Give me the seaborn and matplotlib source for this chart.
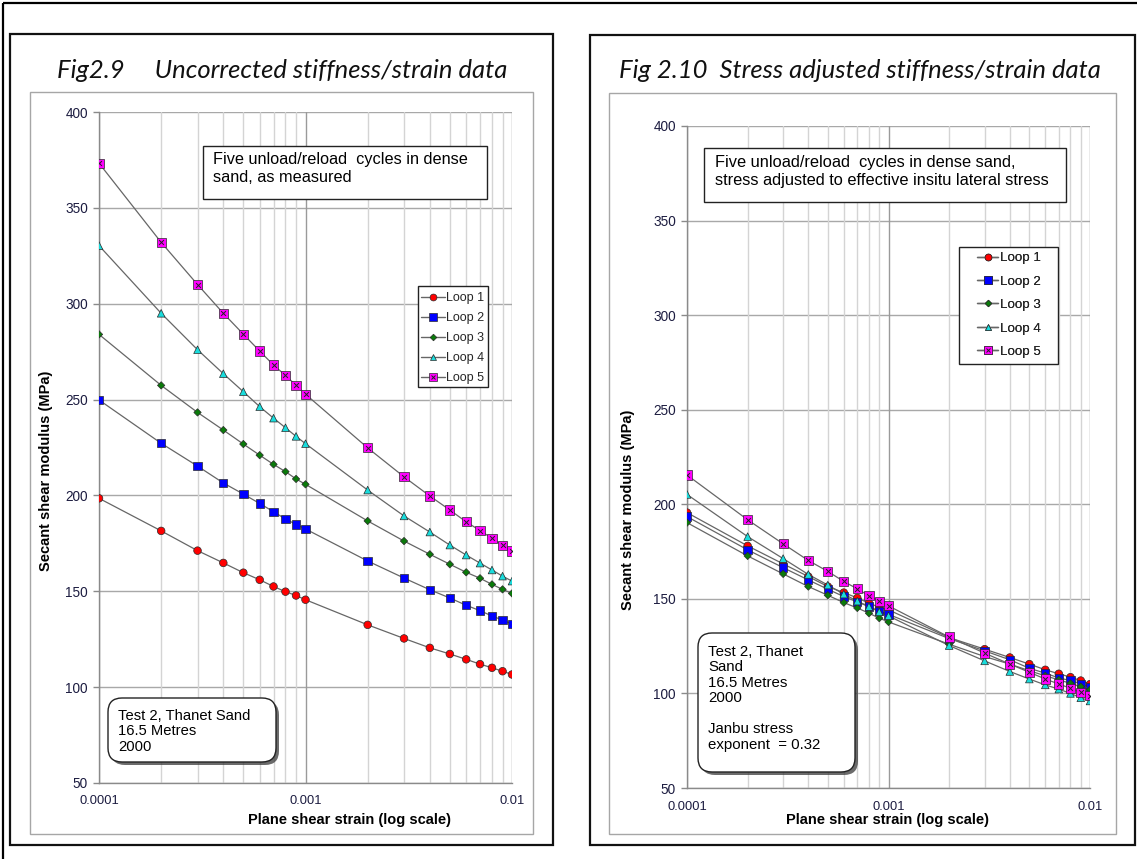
import matplotlib
matplotlib.use("Agg")
import matplotlib.pyplot as plt
import pandas as pd
import seaborn as sns
from matplotlib.patches import Rectangle, FancyBboxPatch
from matplotlib.lines import Line2D
from matplotlib.ticker import LogLocator, NullFormatter, FixedLocator

# ---------------------------------------------------------------- data
strain = [0.0001, 0.0002, 0.0003, 0.0004, 0.0005, 0.0006, 0.0007, 0.0008, 0.0009,
          0.001, 0.002, 0.003, 0.004, 0.005, 0.006, 0.007, 0.008, 0.009, 0.01]
loop_names = ["Loop 1", "Loop 2", "Loop 3", "Loop 4", "Loop 5"]

# Fig 2.9 - secant shear modulus as measured (MPa)
raw_loop1 = [198.5, 181.5, 171.2, 164.8, 159.7, 156.0, 152.5, 149.8, 147.8, 145.6,
             132.5, 125.4, 120.5, 117.3, 114.5, 112.0, 110.1, 108.3, 106.6]
raw_loop2 = [249.8, 227.2, 215.3, 206.5, 200.7, 195.8, 191.5, 187.7, 184.9, 182.5,
             165.8, 156.9, 150.8, 146.5, 142.7, 139.9, 137.1, 135.0, 132.9]
raw_loop3 = [284.0, 257.4, 243.3, 234.1, 226.8, 221.0, 216.2, 212.4, 208.6, 205.8,
             186.7, 176.2, 169.3, 164.1, 159.9, 156.8, 153.6, 151.0, 148.9]
raw_loop4 = [330.3, 295.0, 276.0, 263.5, 254.1, 246.3, 240.3, 235.3, 230.8, 227.0,
             202.8, 189.3, 180.9, 174.1, 168.9, 164.7, 161.1, 157.9, 155.3]
raw_loop5 = [373.3, 332.0, 310.0, 295.0, 284.1, 275.3, 268.0, 262.6, 257.4, 252.8,
             224.8, 209.7, 199.7, 192.4, 186.2, 181.7, 177.6, 173.9, 171.0]

# Fig 2.10 - stress adjusted to effective in-situ lateral stress (MPa)
adj_loop1 = [195.6, 178.0, 168.5, 161.8, 156.5, 153.3, 150.5, 147.7, 145.6, 144.2,
             129.5, 123.4, 119.0, 115.5, 112.5, 110.4, 108.6, 106.8, 104.9]
adj_loop2 = [193.5, 175.9, 166.5, 160.0, 155.1, 151.2, 148.4, 145.9, 143.5, 141.8,
             129.0, 122.5, 117.8, 113.3, 110.7, 108.2, 106.8, 105.0, 103.1]
adj_loop3 = [190.3, 172.7, 163.2, 156.5, 151.9, 148.0, 145.2, 142.4, 139.8, 137.8,
             126.0, 119.5, 115.5, 112.0, 109.3, 107.2, 105.3, 103.6, 102.0]
adj_loop4 = [205.2, 182.9, 171.3, 162.9, 157.3, 152.5, 148.8, 145.9, 143.1, 141.0,
             125.3, 117.2, 111.6, 107.6, 104.5, 102.3, 100.0, 97.7, 96.0]
adj_loop5 = [215.5, 191.8, 179.1, 170.3, 164.5, 159.2, 155.3, 151.6, 148.8, 146.3,
             129.8, 121.3, 115.5, 111.2, 107.6, 105.0, 102.7, 100.5, 98.7]

x_tick_values = [0.0001, 0.001, 0.01]
x_tick_labels = ["0.0001", "0.001", "0.01"]
y_tick_values = [50, 100, 150, 200, 250, 300, 350, 400]


def long_form(series):
    frames = [pd.DataFrame({"strain": strain, "G": vals, "loop": name})
              for name, vals in zip(loop_names, series)]
    return pd.concat(frames, ignore_index=True)


raw_df = long_form([raw_loop1, raw_loop2, raw_loop3, raw_loop4, raw_loop5])
adj_df = long_form([adj_loop1, adj_loop2, adj_loop3, adj_loop4, adj_loop5])

# ---------------------------------------------------------------- style
colors = {"Loop 1": "#ff0000", "Loop 2": "#0000ff", "Loop 3": "#0a7a0a",
          "Loop 4": "#19dcdc", "Loop 5": "#ff00ff"}
markers = {"Loop 1": "o", "Loop 2": "s", "Loop 3": "D", "Loop 4": "^", "Loop 5": "s"}
sizes = {"Loop 1": 30, "Loop 2": 36, "Loop 3": 14, "Loop 4": 30, "Loop 5": 44}
LINE = "#666666"
TICK_COLOR = "#1c1c40"
ARIAL = "Liberation Sans"

sns.set_theme(style="white")
plt.rcParams["font.family"] = [ARIAL, "DejaVu Sans"]

W, H = 1137, 859
fig = plt.figure(figsize=(W / 100, H / 100), dpi=100)
fig.patch.set_facecolor("white")


def px_axes(x0, y0, x1, y1):
    return fig.add_axes([x0 / W, 1 - y1 / H, (x1 - x0) / W, (y1 - y0) / H])


def draw_panel(ax, df):
    sns.lineplot(data=df, x="strain", y="G", units="loop", estimator=None,
                 color=LINE, lw=0.9, sort=False, legend=False, ax=ax, zorder=2)
    sns.scatterplot(data=df, x="strain", y="G", hue="loop", style="loop",
                    size="loop", palette=colors, markers=markers, sizes=sizes,
                    edgecolor="#2a2a2a", linewidth=0.5, legend=False, ax=ax, zorder=3)
    sns.scatterplot(data=df[df["loop"] == "Loop 5"], x="strain", y="G",
                    marker="x", color="#222222", s=12, linewidth=0.7,
                    legend=False, ax=ax, zorder=4)
    ax.set_xscale("log")
    ax.set_xlim(1e-4, 1e-2)
    ax.set_ylim(50, 400)
    ax.xaxis.set_major_locator(FixedLocator(x_tick_values))
    ax.set_xticklabels(x_tick_labels)
    ax.xaxis.set_minor_locator(LogLocator(base=10, subs=range(2, 10)))
    ax.xaxis.set_minor_formatter(NullFormatter())
    ax.set_yticks(y_tick_values)
    ax.set_xlabel("")
    ax.set_ylabel("")
    ax.grid(False)
    for v in y_tick_values:
        ax.axhline(v, color="#a8a8a8", lw=1.0, zorder=0)
    minor = [m * 10.0 ** e for e in (-4, -3) for m in range(2, 10)]
    for v in minor:
        ax.axvline(v, color="#d4d4d4", lw=1.0, zorder=0)
    for v in x_tick_values:
        ax.axvline(v, color="#9a9a9a", lw=1.0, zorder=0)
    for s in ("top", "right"):
        ax.spines[s].set_visible(False)
    for s in ("left", "bottom"):
        ax.spines[s].set_color("#8a8a8a")
        ax.spines[s].set_linewidth(1.0)
    ax.tick_params(axis="y", which="major", direction="out", length=4, width=1,
                   color="#8a8a8a", labelsize=9.8, labelcolor=TICK_COLOR, pad=4,
                   left=True)
    ax.tick_params(axis="x", which="both", length=0, labelsize=9.3,
                   labelcolor=TICK_COLOR, pad=9)
    ax.set_facecolor("white")


ax1 = px_axes(99, 112, 512, 783)
ax2 = px_axes(687, 126, 1090, 788)
draw_panel(ax1, raw_df)
draw_panel(ax2, adj_df)

# ---------------------------------------------------------------- overlay (pixel coords)
ov = fig.add_axes([0, 0, 1, 1], zorder=10)
ov.set_xlim(0, W)
ov.set_ylim(H, 0)
ov.axis("off")
ov.patch.set_alpha(0)

# frames
ov.add_patch(Rectangle((3, 3), W + 10, H + 10, fill=False, ec="black", lw=1.6,
                       clip_on=False))
ov.add_patch(Rectangle((10, 34), 543, 811, fill=False, ec="#111111", lw=1.6))
ov.add_patch(Rectangle((590, 35), 545, 810, fill=False, ec="#111111", lw=1.6))
ov.add_patch(Rectangle((30, 92), 503, 742, fill=False, ec="#a6a6a6", lw=1.0))
ov.add_patch(Rectangle((609, 93), 507, 741, fill=False, ec="#a6a6a6", lw=1.0))

# titles
title_kw = dict(ha="center", va="center", fontstyle="italic", family=["Lato", "DejaVu Sans"],
                fontsize=18, color="#111111")
t1 = ov.text(282, 70, "Fig2.9     Uncorrected stiffness/strain data", **title_kw)
t2 = ov.text(860, 71, "Fig 2.10  Stress adjusted stiffness/strain data", **title_kw)
fig.canvas.draw()
rend = fig.canvas.get_renderer()
for t, target in ((t1, 450), (t2, 483)):
    w = t.get_window_extent(rend).width
    t.set_fontsize(t.get_fontsize() * target / w)

# axis titles
lab_kw = dict(ha="center", va="center", fontweight="bold", fontsize=10.5, color="black")
ov.text(350, 820, "Plane shear strain (log scale)", **lab_kw)
ov.text(888, 820, "Plane shear strain (log scale)", **lab_kw)
ov.text(46, 471, "Secant shear modulus (MPa)", rotation=90, **lab_kw)
ov.text(628, 510, "Secant shear modulus (MPa)", rotation=90, **lab_kw)

# note boxes
ov.add_patch(Rectangle((203, 146), 284, 53, fc="white", ec="#222222", lw=1.0))
ov.text(213, 168.5, "Five unload/reload  cycles in dense\nsand, as measured",
        ha="left", va="center", fontsize=11.7, linespacing=1.33, color="black")
ov.add_patch(Rectangle((704, 148), 362, 54, fc="white", ec="#222222", lw=1.0))
ov.text(715, 171.5, "Five unload/reload  cycles in dense sand,\nstress adjusted to effective insitu lateral stress",
        ha="left", va="center", fontsize=11.8, linespacing=1.3, color="black")


def rounded_box(x0, y0, x1, y1, text, tx, ty, size):
    shadow = FancyBboxPatch((x0 + 3, y0 + 3), x1 - x0, y1 - y0,
                            boxstyle="round,pad=0,rounding_size=14",
                            fc="#3a3a3a", ec="none", alpha=0.75)
    box = FancyBboxPatch((x0, y0), x1 - x0, y1 - y0,
                         boxstyle="round,pad=0,rounding_size=14",
                         fc="white", ec="#222222", lw=1.0)
    ov.add_patch(shadow)
    ov.add_patch(box)
    ov.text(tx, ty, text, ha="left", va="top", fontsize=size,
            linespacing=1.13, color="black")


rounded_box(108, 698, 276, 762, "Test 2, Thanet Sand\n16.5 Metres\n2000", 118, 709, 10.6)
rounded_box(698, 633, 855, 772,
            "Test 2, Thanet\nSand\n16.5 Metres\n2000\n\nJanbu stress\nexponent  = 0.32",
            708, 645, 10.8)

# legends (frame drawn separately so padding can follow the boxes exactly)


def legend_handles():
    hs = []
    for name in loop_names:
        ms = (sizes[name] ** 0.5) * 0.9
        base = Line2D([], [], color=LINE, lw=1.0, marker=markers[name], markersize=ms,
                      markerfacecolor=colors[name], markeredgecolor="#2a2a2a",
                      markeredgewidth=0.5)
        if name == "Loop 5":
            cross = Line2D([], [], ls="none", marker="x", markersize=ms * 0.55,
                           color="#222222", markeredgewidth=0.7)
            hs.append((base, cross))
        else:
            hs.append(base)
    return hs


def legend_at(box, anchor, size, spacing, hlen):
    x0, y0, x1, y1 = box
    ov.add_patch(Rectangle((x0, y0), x1 - x0, y1 - y0, fc="white", ec="#222222", lw=1.0))
    leg = ov.legend(legend_handles(), loop_names, loc="upper left",
                    bbox_to_anchor=anchor, bbox_transform=ov.transData,
                    frameon=False, borderpad=0, borderaxespad=0,
                    handlelength=hlen, handletextpad=0.1, labelspacing=spacing,
                    prop={"family": ARIAL, "size": size})
    ov.add_artist(leg)
    return leg


legend_at((418, 286, 488, 387), (421, 292), 9.0, 0.64, 1.9)
legend_at((959, 247, 1058, 364), (977, 252), 9.6, 0.83, 1.6)

fig.savefig("out.png", dpi=100, facecolor="white")
